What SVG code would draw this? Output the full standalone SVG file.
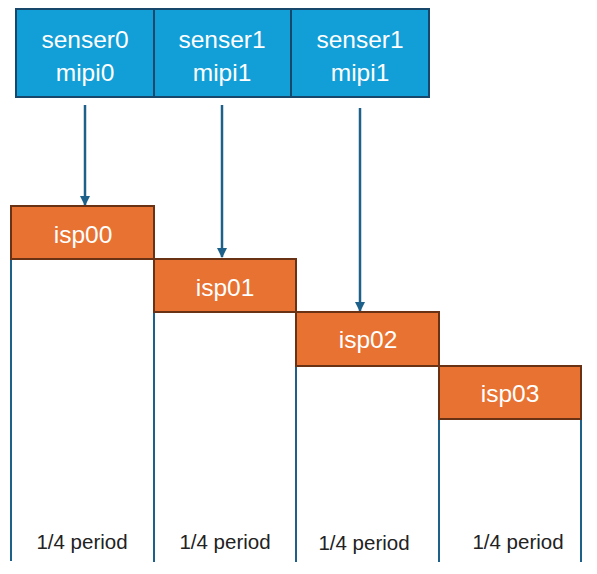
<svg xmlns="http://www.w3.org/2000/svg" width="597" height="574" viewBox="0 0 597 574">
<style>
.sen{fill:#129ED6;stroke:#17476A;stroke-width:2}
.isp{fill:#E87231;stroke:#6A3214;stroke-width:2}
.lt{fill:#fff;font-family:"Liberation Sans",Arial,sans-serif;font-size:24.5px;text-anchor:middle}
.per{fill:#222;font-family:"Liberation Sans",Arial,sans-serif;font-size:20.5px;text-anchor:middle}
.vl{stroke:#1D6089;stroke-width:2;fill:none}
.ar{stroke:#1D6089;stroke-width:2.5;fill:none;marker-end:url(#ah)}
</style>
<defs>
<marker id="ah" viewBox="0 0 10 10" refX="9" refY="5" markerWidth="4" markerHeight="4" orient="auto" markerUnits="strokeWidth">
<path d="M0,0 L10,5 L0,10 z" fill="#1D6089"/>
</marker>
</defs>
<g id="senser0"><rect class="sen" x="16" y="9" width="138" height="88"/><text class="lt" x="85" y="48">senser0</text><text class="lt" x="85" y="81">mipi0</text></g>
<g id="senser1a"><rect class="sen" x="154" y="9" width="137" height="88"/><text class="lt" x="222" y="48">senser1</text><text class="lt" x="222" y="81">mipi1</text></g>
<g id="senser1b"><rect class="sen" x="291" y="9" width="138" height="88"/><text class="lt" x="360" y="48">senser1</text><text class="lt" x="360" y="81">mipi1</text></g>
<g id="connectors">
<line class="ar" x1="85" y1="105" x2="85" y2="205"/>
<line class="ar" x1="222" y1="105" x2="222" y2="257"/>
<line class="ar" x1="360" y1="108" x2="360" y2="311"/>
<line class="vl" x1="11" y1="259" x2="11" y2="561"/>
<line class="vl" x1="154" y1="259" x2="154" y2="562"/>
<line class="vl" x1="296" y1="312" x2="296" y2="562"/>
<line class="vl" x1="439" y1="366" x2="439" y2="562"/>
<line class="vl" x1="581" y1="419" x2="581" y2="562"/>
</g>
<g id="isp00"><rect class="isp" x="11" y="206" width="143" height="53"/><text class="lt" x="83" y="243">isp00</text></g>
<g id="isp01"><rect class="isp" x="154" y="259" width="142" height="53"/><text class="lt" x="225" y="296">isp01</text></g>
<g id="isp02"><rect class="isp" x="296" y="312" width="143" height="54"/><text class="lt" x="368" y="348">isp02</text></g>
<g id="isp03"><rect class="isp" x="439" y="366" width="142" height="53"/><text class="lt" x="510" y="402">isp03</text></g>
<g id="labels">
<text class="per" x="82" y="549">1/4 period</text>
<text class="per" x="225" y="549">1/4 period</text>
<text class="per" x="364" y="550">1/4 period</text>
<text class="per" x="518" y="549">1/4 period</text>
</g>
</svg>
